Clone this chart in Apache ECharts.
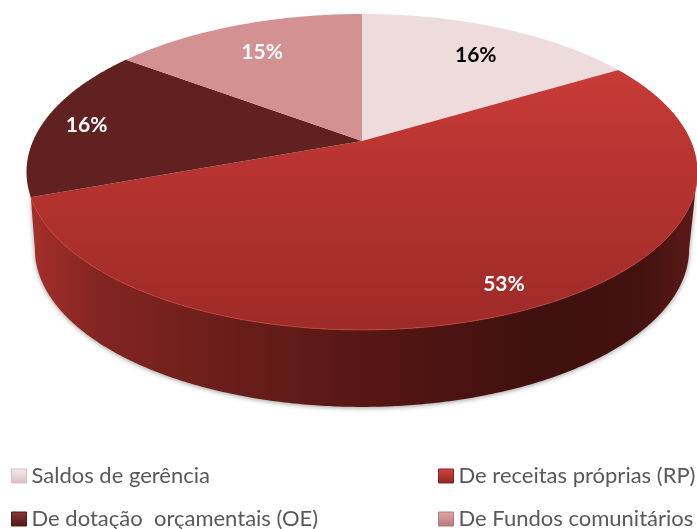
<!DOCTYPE html>
<html>
<head>
<meta charset="utf-8">
<style>
  html, body { margin: 0; padding: 0; background: #fff; }
  #main { width: 697px; height: 529px; }
</style>
<script src="https://cdn.jsdelivr.net/npm/echarts@6/dist/echarts.min.js"></script>
</head>
<body>
<div id="main"></div>
<script>
// data
const categories = ['Saldos de gerência', 'De receitas próprias (RP)', 'De dotação  orçamentais (OE)', 'De Fundos comunitários'];
const values = [16.4, 53.0, 15.8, 14.8];

// look of each slice
const faceColors = ['#eedcdc', null, '#622121', '#d49191'];
const labelColors = ['#000', '#fff', '#fff', '#fff'];
const labelRadius = [0.75, 0.87, 0.86, 0.76];
const labelNudgeX = [6, -4, -2, -1];
const legendColors = [
  ['#f7ecec', '#d9bfbf'],
  ['#d64541', '#8c2522'],
  ['#8a3a38', '#4f1817'],
  ['#e0a8a8', '#b87878']
];

// perspective disc: apex of the slices is not the middle of the ellipse
const cx = 362, apexY = 141, a = 329, b = 124.25, p = -0.196;
const depth = 77, bottomScale = 0.975;

const total = values.reduce((s, v) => s + v, 0);
const starts = [];
let acc = 0;
values.forEach((v) => { starts.push(acc / total * 360); acc += v; });

function project(deg, r, dy, sx) {
  const t = deg * Math.PI / 180;
  const u = Math.sin(t) * r, v = -Math.cos(t) * r;
  const w = 1 + p * v;
  return [cx + (sx || 1) * a * u / w, (b * v + apexY) / w + (dy || 0)];
}

function arc(from, to, dy, sx) {
  const pts = [];
  const n = Math.max(2, Math.ceil(Math.abs(to - from) * 2));
  for (let i = 0; i <= n; i++) pts.push(project(from + (to - from) * i / n, 1, dy, sx));
  return pts;
}

// front part of the rim, between the two widest points of the ellipse
const wallFrom = 101.3, wallTo = 258.7;

const wallGradient = new echarts.graphic.LinearGradient(30, 0, 697, 0, [
  { offset: 0, color: '#a62f2b' },
  { offset: 0.1, color: '#832522' },
  { offset: 0.25, color: '#701f1c' },
  { offset: 0.5, color: '#561714' },
  { offset: 0.77, color: '#3f100f' },
  { offset: 0.92, color: '#441210' },
  { offset: 1, color: '#5c1a17' }
], true);
const bigFace = new echarts.graphic.LinearGradient(0, 70, 0, 330, [
  { offset: 0, color: '#c93b37' },
  { offset: 0.35, color: '#b83430' },
  { offset: 1, color: '#9e2b28' }
], true);

function renderSlice(i) {
  return function () {
    const start = starts[i], end = start + values[i] / total * 360;
    const children = [];
    // only the big slice shows a wall, it runs on under the dark slice
    if (i === 1) {
      const wall = arc(wallFrom, end, 0).concat(arc(wallTo, wallFrom, depth, bottomScale));
      children.push({
        type: 'polygon',
        shape: { points: wall },
        style: {
          fill: wallGradient,
          shadowBlur: 5, shadowColor: 'rgba(0,0,0,0.4)', shadowOffsetY: 1
        }
      });
    }
    children.push({
      type: 'polygon',
      shape: { points: [[cx, apexY]].concat(arc(start, end, 0)) },
      style: { fill: faceColors[i] || bigFace }
    });
    if (i === 1) {
      children.push({
        type: 'polyline',
        shape: { points: arc(wallFrom, end, 0) },
        style: { fill: null, stroke: '#c5413d', lineWidth: 1, opacity: 0.8 }
      });
    }
    const mid = project((start + end) / 2, labelRadius[i], 2.5);
    children.push({
      type: 'text',
      style: {
        x: mid[0] + labelNudgeX[i], y: mid[1],
        text: Math.round(values[i] / total * 100) + '%',
        fill: labelColors[i],
        font: 'bold 21px Lato',
        align: 'center', verticalAlign: 'middle'
      }
    });
    return { type: 'group', children: children };
  };
}

function legendItem(i) {
  return {
    name: categories[i],
    icon: 'rect',
    itemStyle: {
      color: new echarts.graphic.LinearGradient(0, 0, 0, 1, [
        { offset: 0, color: legendColors[i][0] },
        { offset: 1, color: legendColors[i][1] }
      ]),
      borderColor: legendColors[i][1],
      borderWidth: 1
    }
  };
}

const legendBase = {
  orient: 'vertical',
  top: 465,
  height: 72,
  padding: 0,
  itemWidth: 15,
  itemHeight: 14,
  itemGap: 21,
  selectedMode: false,
  textStyle: { fontFamily: 'Lato', fontSize: 22, color: '#595959' }
};

const chart = echarts.init(document.getElementById('main'));
chart.setOption({
  animation: false,
  backgroundColor: '#fff',
  legend: [
    Object.assign({}, legendBase, { left: 11, data: [legendItem(0), legendItem(2)] }),
    Object.assign({}, legendBase, { left: 438, data: [legendItem(1), legendItem(3)] })
  ],
  series: categories.map((name, i) => ({
    type: 'custom',
    name: name,
    coordinateSystem: 'none',
    silent: true,
    clip: false,
    itemStyle: { color: legendColors[i][1] },
    renderItem: renderSlice(i),
    data: [[values[i]]]
  }))
});
</script>
</body>
</html>
